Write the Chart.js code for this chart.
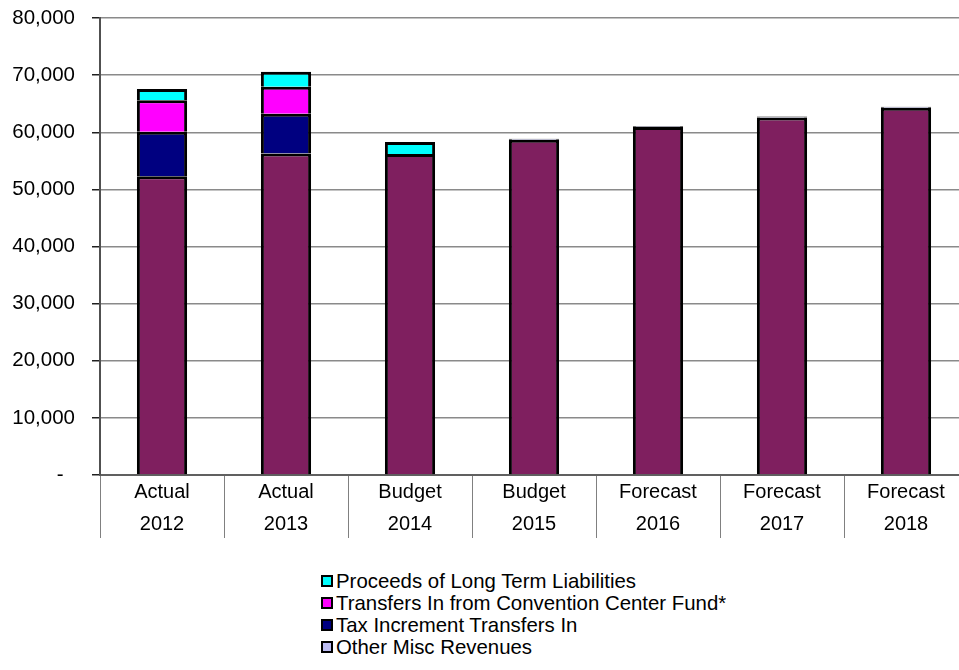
<!DOCTYPE html>
<html>
<head>
<meta charset="utf-8">
<title>Revenues</title>
<script src="https://cdn.jsdelivr.net/npm/chart.js@4.4.1/dist/chart.umd.min.js"></script>
<style>
  html, body { margin: 0; padding: 0; background: #fff; overflow: hidden; width: 959px; height: 670px; }
  #wrap { position: relative; width: 959px; height: 670px; overflow: hidden; }
  #revChart { position: absolute; left: 0; top: 0; }
  #legend { position: absolute; left: 321px; top: 570px; height: 88px; overflow: hidden;
            font: 20.4px "Liberation Sans", Arial, sans-serif; color: #000; }
  .item { display: flex; align-items: center; height: 22px; white-space: nowrap; }
  .swatch { width: 8px; height: 8px; border: 2px solid #000; margin-right: 3px; }
</style>
</head>
<body>
<div id="wrap">
  <canvas id="revChart" width="980" height="555"></canvas>
  <div id="legend"></div>
</div>
<script>
// Fiscal years (two-line axis labels)
const categories = [
    ['Actual', '2012'], ['Actual', '2013'], ['Budget', '2014'], ['Budget', '2015'],
    ['Forecast', '2016'], ['Forecast', '2017'], ['Forecast', '2018']
];

// Revenue sources, bottom of the stack first
const hotelOccupancyTax   = [52300, 56300, 56200, 58700, 60900, 62600, 64300];
const otherMiscRevenues   = [0, 0, 0, 150, 150, 150, 150];
const taxIncrementIn      = [7770, 6950, 0, 0, 0, 0, 0];
const conventionCenterIn  = [5550, 4700, 0, 0, 0, 0, 0];
const longTermProceeds    = [1930, 2620, 2100, 0, 0, 0, 0];

const yTicks = [0, 10000, 20000, 30000, 40000, 50000, 60000, 70000, 80000];

const series = [
    { label: 'Hotel Occupancy Tax', data: hotelOccupancyTax, color: '#7F1F5F' },
    { label: 'Other Misc Revenues', data: otherMiscRevenues, color: '#BCBCF2' },
    { label: 'Tax Increment Transfers In', data: taxIncrementIn, color: '#000080' },
    { label: 'Transfers In from Convention Center Fund*', data: conventionCenterIn, color: '#FF00FF' },
    { label: 'Proceeds of Long Term Liabilities', data: longTermProceeds, color: '#00FFFF' }
];

Chart.defaults.font.family = '"Liberation Sans", Arial, sans-serif';
Chart.defaults.color = '#000';

const ctx = document.getElementById('revChart').getContext('2d');
const revChart = new Chart(ctx, {
    type: 'bar',
    data: {
        labels: categories,
        datasets: series.map(s => ({
            label: s.label,
            data: s.data,
            backgroundColor: s.color,
            borderColor: '#000',
            borderWidth: 3,
            borderSkipped: 'start',
            categoryPercentage: 1,
            barPercentage: 0.405
        }))
    },
    options: {
        responsive: false,
        animation: false,
        layout: { padding: { left: 12, right: 12, top: 18, bottom: 0 } },
        plugins: { legend: { display: false }, tooltip: { enabled: false } },
        scales: {
            x: {
                stacked: true,
                grid: {
                    display: true,
                    drawOnChartArea: false,
                    drawTicks: true,
                    tickLength: 63,
                    color: '#808080',
                    lineWidth: 1
                },
                border: { display: true, color: '#606060', width: 2 },
                ticks: {
                    font: { size: 20, lineHeight: 1.6 },
                    padding: -62,
                    autoSkip: false,
                    maxRotation: 0
                },
                afterFit: scale => { scale.height = 80; }
            },
            y: {
                stacked: true,
                min: 0,
                max: 80000,
                afterBuildTicks: scale => { scale.ticks = yTicks.map(v => ({ value: v })); },
                grid: {
                    color: '#8a8a8a',
                    lineWidth: 1.5,
                    tickLength: 8,
                    tickColor: '#202020'
                },
                border: { display: true, color: '#505050', width: 2 },
                ticks: {
                    font: { size: 20.5 },
                    padding: 17,
                    callback: v => v === 0 ? '-  ' : v.toLocaleString('en-US')
                },
                afterFit: scale => {
                    scale.width = 88;
                    scale.paddingTop = 0;
                    scale.paddingBottom = 0;
                }
            }
        }
    }
});

// Legend lists the stack top-down; its box only has room for four lines
const legend = document.getElementById('legend');
series.slice().reverse().forEach(s => {
    const row = document.createElement('div');
    row.className = 'item';
    const box = document.createElement('span');
    box.className = 'swatch';
    box.style.background = s.color;
    row.appendChild(box);
    row.appendChild(document.createTextNode(s.label));
    legend.appendChild(row);
});
</script>
</body>
</html>
